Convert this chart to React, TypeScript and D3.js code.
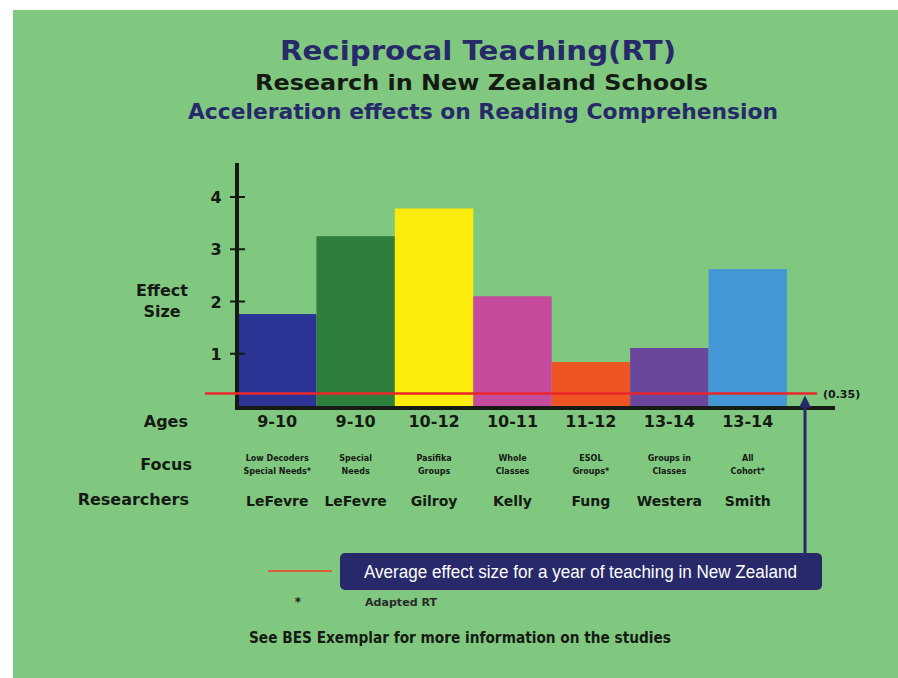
import { useEffect } from "react";
import * as d3 from "d3";

const W = 898;
const H = 678;

const ages = ["9-10", "9-10", "10-12", "10-11", "11-12", "13-14", "13-14"];
const effects = [1.76, 3.25, 3.78, 2.1, 0.84, 1.11, 2.62];
const focusLine1 = ["Low Decoders", "Special", "Pasifika", "Whole", "ESOL", "Groups in", "All"];
const focusLine2 = ["Special Needs*", "Needs", "Groups", "Classes", "Groups*", "Classes", "Cohort*"];
const researchers = ["LeFevre", "LeFevre", "Gilroy", "Kelly", "Fung", "Westera", "Smith"];
const barColors = ["#2b3494", "#2e7f3c", "#fcec0c", "#c64b9c", "#ef5423", "#6a469c", "#4397d4"];
const yTicks = [1, 2, 3, 4];
const averageLine = 0.24; // where the red line sits in the picture
const averageLabel = "(0.35)";

const FONT = "'DejaVu Sans', sans-serif";
const NAVY = "#27296a";
const BG = "#80c87f";
const INK = "#151a14";

export default function App() {
  useEffect(() => {
    document.body.style.margin = "0";
  }, []);

  const x = d3.scaleBand<number>().domain(d3.range(ages.length)).range([238, 787]).padding(0);
  const y = d3.scaleLinear().domain([0, 4]).range([406, 197]);
  const cx = (i: number) => (x(i) ?? 0) + x.bandwidth() / 2;
  const yAvg = y(averageLine);
  const arrowX = 805;

  return (
    <svg width={W} height={H} style={{ display: "block" }} fontFamily={FONT}>
      <rect x={0} y={0} width={W} height={H} fill="#fff" />
      <rect x={13} y={10} width={W - 13} height={H - 10} fill={BG} />

      {/* titles */}
      <text x={280} y={60} fontSize={26} fontWeight={700} fill={NAVY} textLength={396} lengthAdjust="spacingAndGlyphs">
        Reciprocal Teaching(RT)
      </text>
      <text x={255} y={90} fontSize={21} fontWeight={700} fill={INK} textLength={453} lengthAdjust="spacingAndGlyphs">
        Research in New Zealand Schools
      </text>
      <text x={188} y={119} fontSize={21} fontWeight={700} fill={NAVY} textLength={590} lengthAdjust="spacingAndGlyphs">
        Acceleration effects on Reading Comprehension
      </text>

      {/* bars */}
      {effects.map((v, i) => (
        <rect key={i} x={x(i)} y={y(v)} width={x.bandwidth()} height={y(0) - y(v)} fill={barColors[i]} />
      ))}

      {/* y axis */}
      <line x1={237} x2={237} y1={163} y2={409} stroke={INK} strokeWidth={4} />
      {yTicks.map((t) => (
        <g key={t}>
          <line x1={230} x2={245} y1={y(t)} y2={y(t)} stroke={INK} strokeWidth={2} />
          <text x={216} y={y(t) + 6} textAnchor="middle" fontSize={16} fontWeight={700} fill={INK}>
            {t}
          </text>
        </g>
      ))}
      <text x={162} y={296} textAnchor="middle" fontSize={16} fontWeight={700} fill={INK}>Effect</text>
      <text x={162} y={317} textAnchor="middle" fontSize={16} fontWeight={700} fill={INK}>Size</text>

      {/* x axis */}
      <line x1={235} x2={835} y1={408} y2={408} stroke={INK} strokeWidth={4} />

      {/* average line */}
      <line x1={205} x2={817} y1={yAvg} y2={yAvg} stroke="#e8262b" strokeWidth={2.5} />
      <text x={823} y={yAvg + 5} fontSize={11} fontWeight={700} fill={INK}>{averageLabel}</text>

      {/* arrow */}
      <line x1={arrowX} x2={arrowX} y1={yAvg + 10} y2={556} stroke={NAVY} strokeWidth={3} />
      <path d={`M${arrowX},${yAvg + 2} L${arrowX - 6},${yAvg + 14} L${arrowX + 6},${yAvg + 14} Z`} fill={NAVY} />

      {/* row labels */}
      <g fontWeight={700} fill={INK} textAnchor="end" fontSize={16}>
        <text x={188} y={427}>Ages</text>
        <text x={192} y={470}>Focus</text>
        <text x={189} y={505}>Researchers</text>
      </g>

      {ages.map((a, i) => (
        <g key={i} textAnchor="middle" fill={INK} fontWeight={700}>
          <text x={cx(i)} y={427} fontSize={16}>{a}</text>
          <text x={cx(i)} y={461} fontSize={8}>{focusLine1[i]}</text>
          <text x={cx(i)} y={474} fontSize={8}>{focusLine2[i]}</text>
          <text x={cx(i)} y={506} fontSize={14}>{researchers[i]}</text>
        </g>
      ))}

      {/* legend */}
      <line x1={268} x2={332} y1={571} y2={571} stroke="#dc5f3a" strokeWidth={2} />
      <rect x={340} y={553} width={482} height={37} rx={5} fill={NAVY} />
      <text
        x={364}
        y={578}
        fontSize={18}
        fill="#fff"
        fontFamily="'Liberation Sans Narrow', 'Liberation Sans', sans-serif"
        textLength={433}
        lengthAdjust="spacingAndGlyphs"
      >
        Average effect size for a year of teaching in New Zealand
      </text>
      <text x={298} y={606} fontSize={12} fontWeight={700} fill={INK} textAnchor="middle">*</text>
      <text x={365} y={606} fontSize={11} fontWeight={700} fill="#2a2a2a" textLength={72} lengthAdjust="spacingAndGlyphs">
        Adapted RT
      </text>
      <text x={249} y={643} fontSize={16} fontWeight={700} fill={INK} textLength={422} lengthAdjust="spacingAndGlyphs">
        See BES Exemplar for more information on the studies
      </text>
    </svg>
  );
}
